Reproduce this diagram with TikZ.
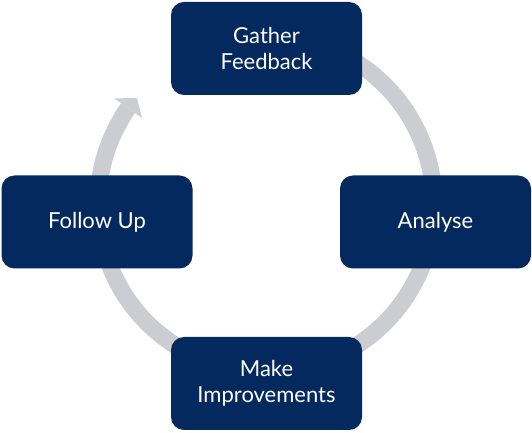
\documentclass[tikz,border=0pt]{standalone}
\usepackage{fontspec}
\setmainfont{Lato}
\usetikzlibrary{calc}
\definecolor{navy}{HTML}{03295E}
\definecolor{ringgray}{HTML}{CBCDD3}
\begin{document}
\begin{tikzpicture}[x=1pt,y=1pt,
  stepbox/.style={draw=none, fill=navy, rounded corners=13pt, minimum width=191pt, minimum height=93pt, text=white, font=\fontsize{22}{26.5}\selectfont, align=center, inner sep=0pt},
  ring/.style={draw=ringgray, line width=17pt}]
\useasboundingbox (0,0) rectangle (532,433);
\coordinate (c) at (266,229);
\draw[ring] ($(c)+(110:168)$) arc[start angle=110,end angle=-214.8,radius=168];
\fill[ringgray] ($(c)+(145.2:185)$) -- ($(c)+(140.6:167)$) -- ($(c)+(145.2:151)$) -- cycle;
\node[stepbox] (g) at (266.5,384.5) {Gather\\Feedback};
\node[stepbox] (a) at (435.5,211) {Analyse};
\node[stepbox] (m) at (266.5,49.5) {Make\\Improvements};
\node[stepbox] (f) at (97,211) {Follow Up};
\end{tikzpicture}
\end{document}
